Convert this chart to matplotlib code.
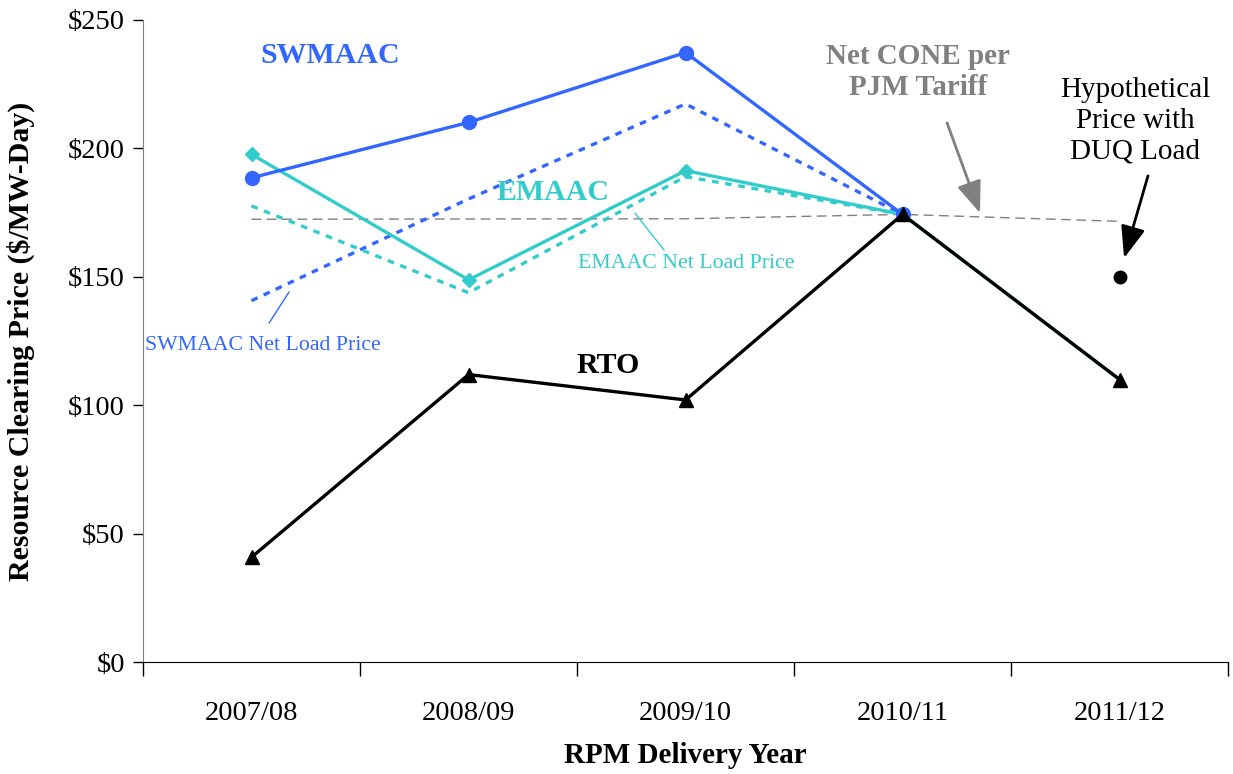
import matplotlib
matplotlib.use("Agg")
import matplotlib.pyplot as plt

# Delivery years and clearing prices ($/MW-Day)
years = ["2007/08", "2008/09", "2009/10", "2010/11", "2011/12"]
rto = [40.80, 111.92, 102.04, 174.29, 110.00]
swmaac = [188.54, 210.11, 237.33, 174.29]
emaac = [197.67, 148.80, 191.32, 174.29, 110.00]
swmaac_net_load = [140.7, 180.3, 217.3, 174.29]
emaac_net_load = [177.6, 143.8, 189.0, 174.29]
net_cone = [172.4, 172.5, 172.6, 174.29, 171.6]
duq_hypothetical = 150.0

BLUE = "#3366FF"
CYAN = "#33CCCC"
GRAY = "#808080"

plt.rcParams["font.family"] = ["Liberation Serif", "DejaVu Serif"]

fig = plt.figure(figsize=(12.33, 7.74), dpi=100)
ax = fig.add_axes([0.116, 0.1447, 0.880, 0.8295])

x = list(range(len(years)))

ax.plot(x, net_cone, color=GRAY, lw=1.0, dashes=(7, 4), zorder=2)

ax.plot(x[:4], swmaac_net_load, color=BLUE, lw=2.4, dashes=(2, 2.0), zorder=3)
ax.plot(x[:4], emaac_net_load, color=CYAN, lw=2.4, dashes=(2, 2.0), zorder=3)

ax.plot(x, emaac, color=CYAN, lw=2.4, marker="D", ms=7.5, markevery=[0, 1, 2, 3], zorder=4)
ax.plot(x[:4], swmaac, color=BLUE, lw=2.4, marker="o", ms=10, zorder=5)
ax.plot(x, rto, color="black", lw=2.4, marker="^", ms=10, zorder=6)
ax.plot([4], [duq_hypothetical], color="black", marker="o", ms=9, ls="none", zorder=6)

ax.set_xlim(-0.5, 4.5)
ax.set_ylim(0, 250)
ax.set_yticks([0, 50, 100, 150, 200, 250])
ax.set_yticklabels([f"${v}" for v in [0, 50, 100, 150, 200, 250]])
ax.set_xticks(x)
ax.set_xticklabels(years)
ax.set_xticks([i - 0.5 for i in range(6)], minor=True)
ax.tick_params(axis="x", which="major", length=0, pad=28, labelsize=20.5)
ax.tick_params(axis="x", which="minor", length=10, width=1, direction="out")
ax.tick_params(axis="y", length=7, width=1, direction="out", labelsize=20.5, pad=6)

for side in ("top", "right"):
    ax.spines[side].set_visible(False)
ax.spines["left"].set_color(GRAY)
ax.spines["bottom"].set_color("black")

ax.set_xlabel("RPM Delivery Year", fontsize=21, fontweight="bold", va="center")
ax.xaxis.set_label_coords(0.5, -0.145)
ax.set_ylabel("Resource Clearing Price ($/MW-Day)", fontsize=21.5, fontweight="bold", va="center")
ax.yaxis.set_label_coords(-0.113, 0.50)

# Series labels
ax.text(0.362, 236, "SWMAAC", color=BLUE, fontsize=21.5, fontweight="bold", ha="center", va="center")
ax.text(1.389, 183, "EMAAC", color=CYAN, fontsize=21.5, fontweight="bold", ha="center", va="center")
ax.text(1.643, 115.3, "RTO", color="black", fontsize=21.5, fontweight="bold", ha="center", va="center")

ax.text(2.002, 155, "EMAAC Net Load Price", color=CYAN, fontsize=15.7, ha="center", va="center")
ax.annotate("", xy=(1.767, 174.8), xytext=(1.901, 160.4),
            arrowprops=dict(arrowstyle="-", color=CYAN, lw=1, shrinkA=0, shrinkB=0))
ax.text(0.053, 123.4, "SWMAAC Net Load Price", color=BLUE, fontsize=15.7, ha="center", va="center")
ax.annotate("", xy=(0.173, 144.1), xytext=(0.081, 132.0),
            arrowprops=dict(arrowstyle="-", color=BLUE, lw=1, shrinkA=0, shrinkB=0))

ax.text(3.071, 229.7, "Net CONE per\nPJM Tariff", color=GRAY, fontsize=21, fontweight="bold",
        ha="center", va="center", linespacing=1.2)
ax.annotate("", xy=(3.357, 174.8), xytext=(3.205, 209.9),
            arrowprops=dict(arrowstyle="-|>,head_length=1.3,head_width=0.5",
                            mutation_scale=15, color=GRAY, lw=2.0, shrinkA=0, shrinkB=0))
ax.text(4.071, 210.7, "Hypothetical\nPrice with\nDUQ Load", color="black", fontsize=21,
        ha="center", va="center", linespacing=1.23)
ax.annotate("", xy=(4.021, 157.3), xytext=(4.131, 189.3),
            arrowprops=dict(arrowstyle="-|>,head_length=1.3,head_width=0.5",
                            mutation_scale=15, color="black", lw=2.0, shrinkA=0, shrinkB=0))

fig.savefig("out.png", dpi=100)
